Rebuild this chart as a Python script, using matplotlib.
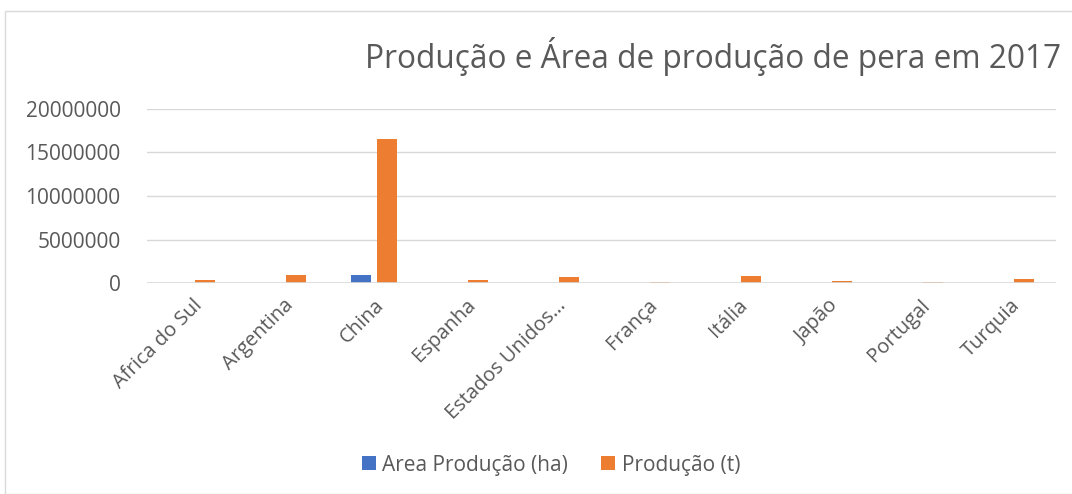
import matplotlib
matplotlib.use("Agg")
import matplotlib.pyplot as plt
import numpy as np
from matplotlib.patches import Rectangle

countries = ["Africa do Sul", "Argentina", "China", "Espanha", "Estados Unidos…",
             "França", "Itália", "Japão", "Portugal", "Turquia"]
area_ha = [12000, 23000, 940000, 22000, 20000, 5000, 30000, 11000, 11000, 26000]
producao_t = [350000, 900000, 16500000, 330000, 650000, 130000, 770000, 250000, 170000, 500000]

BLUE = "#4472C4"
ORANGE = "#ED7D31"
GRAY = "#595959"

plt.rcParams["font.family"] = ["Open Sans", "DejaVu Sans"]

fig = plt.figure(figsize=(10.72, 4.94), dpi=100)
fig.patches.append(Rectangle((5 / 1072, 0), 1.2, 1 - 11 / 494, transform=fig.transFigure,
                             fill=False, edgecolor="#D9D9D9", linewidth=1))
ax = fig.add_axes([147 / 1072, 1 - 283 / 494, (1056 - 147) / 1072, (283 - 109) / 494])

x = np.arange(len(countries))
w = 0.22
ax.bar(x - 0.143, area_ha, w, color=BLUE, label="Area Produção (ha)")
ax.bar(x + 0.143, producao_t, w, color=ORANGE, label="Produção (t)")

ax.set_xlim(-0.5, len(countries) - 0.5)
ax.set_ylim(0, 20000000)
ax.set_yticks(range(0, 20000001, 5000000))
ax.yaxis.set_major_formatter(matplotlib.ticker.FuncFormatter(lambda v, p: f"{int(v)}"))
ax.grid(axis="y", color="#D9D9D9", linewidth=1)
ax.set_axisbelow(True)
for s in ax.spines.values():
    s.set_visible(False)
ax.axhline(0, color="#D9D9D9", linewidth=1.2)
ax.tick_params(axis="y", length=0, colors=GRAY, labelsize=15, pad=19)
ax.tick_params(axis="x", length=0, colors=GRAY, labelsize=14.5, pad=9)
ax.set_xticks(x)
ax.set_xticklabels(countries, rotation=45, ha="right", rotation_mode="anchor")

# the original title runs off the right edge; shrink a touch so it stays whole
fig.text(365 / 1072, 1 - 57 / 494, "Produção e Área de produção de pera em 2017",
         fontsize=22.8, color=GRAY, va="center", ha="left")

fig.legend(loc="center", bbox_to_anchor=(551 / 1072, 1 - 465 / 494), ncol=2, frameon=False,
           fontsize=15, labelcolor=GRAY, handlelength=0.67, handleheight=0.67,
           handletextpad=0.3, columnspacing=1.6)

fig.savefig("out.png", dpi=100)
